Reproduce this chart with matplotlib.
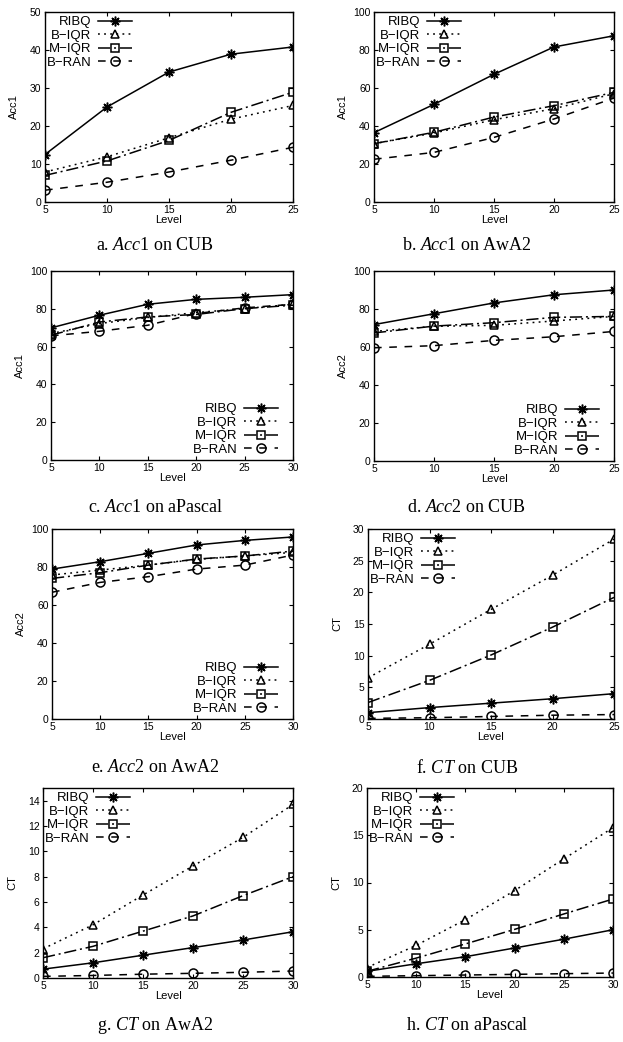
import matplotlib
matplotlib.use('Agg')
import matplotlib.pyplot as plt

plt.rcParams['font.family'] = ['Liberation Sans', 'DejaVu Sans']
plt.rcParams['mathtext.fontset'] = 'custom'
plt.rcParams['mathtext.it'] = 'Liberation Serif:italic'
plt.rcParams['mathtext.rm'] = 'Liberation Serif'

methods = ['RIBQ', 'B\u2212IQR', 'M\u2212IQR', 'B\u2212RAN']
levels_25 = [5, 10, 15, 20, 25]
levels_30 = [5, 10, 15, 20, 25, 30]

# rows: RIBQ, B-IQR, M-IQR, B-RAN
acc1_cub = [[12.5, 25.0, 34.2, 38.9, 40.8],
            [7.9, 11.9, 16.9, 21.8, 25.4],
            [7.0, 10.8, 16.2, 23.6, 28.9],
            [3.1, 5.2, 7.9, 11.0, 14.4]]
acc1_awa2 = [[36.5, 51.4, 67.2, 81.6, 87.5],
             [30.7, 36.3, 43.3, 49.1, 57.0],
             [30.7, 36.7, 44.7, 50.7, 57.7],
             [22.5, 26.1, 34.0, 43.7, 54.7]]
acc1_apascal = [[69.9, 76.6, 82.4, 85.0, 86.1, 87.5],
                [66.9, 72.2, 75.4, 78.0, 80.1, 82.4],
                [66.0, 73.0, 75.7, 77.0, 80.1, 81.9],
                [65.7, 68.1, 71.3, 77.5, 80.5, 82.4]]
acc2_cub = [[71.8, 77.5, 83.2, 87.5, 90.0],
            [68.2, 70.9, 71.4, 73.7, 76.1],
            [67.4, 71.0, 72.8, 75.6, 76.1],
            [59.6, 60.7, 63.5, 65.4, 68.2]]
acc2_awa2 = [[78.9, 82.8, 87.2, 91.6, 94.0, 95.8],
             [75.8, 78.4, 81.0, 84.0, 85.8, 87.7],
             [74.0, 77.0, 81.0, 84.2, 85.8, 88.4],
             [66.7, 71.9, 74.9, 78.9, 81.0, 86.3]]
ct_cub = [[1.0, 1.8, 2.5, 3.2, 4.0],
          [6.5, 11.8, 17.3, 22.7, 28.4],
          [2.6, 6.1, 10.1, 14.5, 19.2],
          [0.1, 0.2, 0.4, 0.6, 0.7]]
ct_awa2 = [[0.7, 1.2, 1.8, 2.4, 3.0, 3.65],
           [2.3, 4.2, 6.55, 8.85, 11.1, 13.7],
           [1.6, 2.5, 3.7, 4.9, 6.5, 8.0],
           [0.13, 0.2, 0.3, 0.37, 0.45, 0.55]]
ct_apascal = [[0.6, 1.4, 2.15, 3.07, 4.0, 5.0],
              [1.0, 3.35, 6.07, 9.14, 12.5, 15.8],
              [0.6, 2.0, 3.5, 5.04, 6.67, 8.25],
              [0.07, 0.14, 0.21, 0.28, 0.35, 0.42]]

styles = [dict(ls='-', marker=(8, 2, 0), ms=7),
          dict(ls=(0, (1.2, 2.8)), marker='^', ms=6),
          dict(ls=(0, (8, 2.5, 1.3, 2.5)), marker='s', ms=6),
          dict(ls=(0, (5, 5)), marker='o', ms=6.5)]

W, H = 623, 1042
fig = plt.figure(figsize=(W / 100, H / 100), dpi=100)

def px_axes(l, t, r, b):
    return fig.add_axes([l / W, 1 - b / H, (r - l) / W, (b - t) / H])

panels = [
    # box, x, data, ylabel, ylim, yticks, legend loc, caption
    ((45, 12, 293, 202), levels_25, acc1_cub, 'Acc1', 50, range(0, 51, 10), 'ul', 'a. $\\mathit{Acc}$1 on CUB'),
    ((374, 12, 614, 202), levels_25, acc1_awa2, 'Acc1', 100, range(0, 101, 20), 'ul', 'b. $\\mathit{Acc}$1 on AwA2'),
    ((51, 271, 293, 460), levels_30, acc1_apascal, 'Acc1', 100, range(0, 101, 20), 'lr', 'c. $\\mathit{Acc}$1 on aPascal'),
    ((374, 271, 614, 461), levels_25, acc2_cub, 'Acc2', 100, range(0, 101, 20), 'lr', 'd. $\\mathit{Acc}$2 on CUB'),
    ((52, 529, 293, 719), levels_30, acc2_awa2, 'Acc2', 100, range(0, 101, 20), 'lr', 'e. $\\mathit{Acc}$2 on AwA2'),
    ((368, 529, 614, 719), levels_25, ct_cub, 'CT', 30, range(0, 31, 5), 'ul', 'f. $\\mathit{CT}$ on CUB'),
    ((43, 788, 293, 978), levels_30, ct_awa2, 'CT', 15, range(0, 15, 2), 'ul', 'g. $\\mathit{CT}$ on AwA2'),
    ((367, 788, 613, 977), levels_30, ct_apascal, 'CT', 20, range(0, 21, 5), 'ul', 'h. $\\mathit{CT}$ on aPascal'),
]
caption_y = [246, 246, 507, 507, 768, 768, 1026, 1026]

for i, (box, x, data, ylab, ymax, yt, loc, cap) in enumerate(panels):
    ax = px_axes(*box)
    for name, y, st in zip(methods, data, styles):
        ax.plot(x, y, color='black', lw=1.1, ls=st['ls'], marker=st['marker'],
                ms=st['ms'], mfc='none', mec='black', mew=1.1, label=name)
    ax.set_xlim(x[0], x[-1])
    ax.set_ylim(0, ymax)
    ax.set_xticks(x)
    ax.set_yticks(list(yt))
    ax.tick_params(direction='in', top=True, right=True, labelsize=7.5,
                   length=3, width=0.8, pad=2.5)
    for s in ax.spines.values():
        s.set_linewidth(1.0)
    ax.set_xlabel('Level', fontsize=8, labelpad=0)
    ax.set_ylabel(ylab, fontsize=8)
    ax.yaxis.set_label_coords(-26 / (box[2] - box[0]), 0.5)
    kw = dict(frameon=False, markerfirst=False, fontsize=9.5, handlelength=2.6,
              handletextpad=0.5, labelspacing=0.1, borderpad=0.2,
              borderaxespad=0.1, numpoints=1)
    if loc == 'ul':
        ax.legend(loc='upper left', bbox_to_anchor=(-0.01, 1.0), **kw)
    else:
        ax.legend(loc='lower right', bbox_to_anchor=(0.955, 0.0), **kw)
    cx = 155.5 if i % 2 == 0 else 467
    fig.text(cx / W, 1 - caption_y[i] / H, cap, ha='center', va='center',
             fontsize=13, family='Liberation Serif')

fig.savefig('out.png', dpi=100)
